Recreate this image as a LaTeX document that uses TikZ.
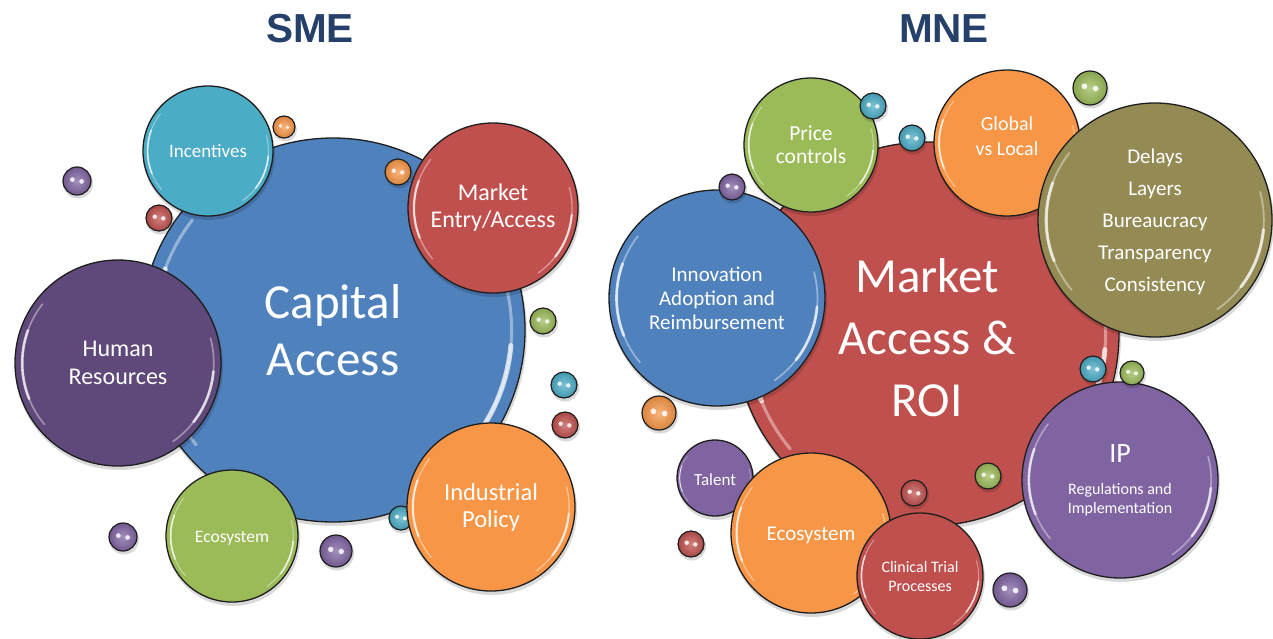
\documentclass[tikz,border=0pt]{standalone}
\usepackage{fontspec}
\setmainfont{Carlito}
\newfontfamily\headfont{Liberation Sans}

\definecolor{cblue}{HTML}{4F81BD}
\definecolor{cteal}{HTML}{4BACC6}
\definecolor{cred}{HTML}{C0504D}
\definecolor{cplum}{HTML}{5F497A}
\definecolor{cpurple}{HTML}{8064A2}
\definecolor{cgreen}{HTML}{9BBB59}
\definecolor{corange}{HTML}{F79646}
\definecolor{colive}{HTML}{948A54}
\definecolor{rimcol}{HTML}{1E1E1E}
\definecolor{headcol}{HTML}{25406A}

\tikzset{
  bubblenode/.style={circle, draw=rimcol, line width=1.3pt, inner sep=0pt},
  bubbletext/.style={text=white, align=center, inner sep=0pt},
  ballnode/.style={circle, draw=rimcol, line width=1.2pt, inner sep=0pt},
  glint/.style={white, line cap=round},
  dropshade/.style={fill=black, opacity=0.15},
  heading/.style={font=\headfont\bfseries\fontsize{40.5}{44}\selectfont,
    text=headcol, inner sep=0pt}
}

% [#1 text offset], #2 name, #3 x, #4 y, #5 radius, #6 colour, #7 font, #8 text
\newcommand\bubble[8][0]{%
  \fill[dropshade] (#3+1,#4+3) circle[radius=#5+1];
  \node[bubblenode, fill=#6, minimum size=2*#5] (#2) at (#3,#4) {};
  \draw[glint, opacity=.40, line width=0.016*#5]
    (#2.center) ++(140:0.93*#5) arc[start angle=140, end angle=218, radius=0.93*#5];
  \draw[glint, opacity=.70, line width=0.026*#5]
    (#2.center) ++(158:0.93*#5) arc[start angle=158, end angle=200, radius=0.93*#5];
  \draw[glint, opacity=.40, line width=0.016*#5]
    (#2.center) ++(-15:0.93*#5) arc[start angle=-15, end angle=55, radius=0.93*#5];
  \draw[glint, opacity=.70, line width=0.026*#5]
    (#2.center) ++(5:0.93*#5) arc[start angle=5, end angle=38, radius=0.93*#5];
  \node[bubbletext, font=#7] (#2-label) at ([yshift=-#1pt]#2.center) {#8};
}

% #1 name, #2 x, #3 y, #4 radius, #5 colour
\newcommand\ball[5]{%
  \fill[dropshade] (#2+1,#3+2.5) circle[radius=#4+1];
  \node[ballnode, inner color=#5!72!white, outer color=#5!88!black,
    minimum size=2*#4] (#1) at (#2,#3) {};
  \fill[white, opacity=.85] (#2-0.33*#4,#3-0.10*#4) circle[radius=0.17*#4];
  \fill[white, opacity=.85] (#2+0.33*#4,#3+0.03*#4) circle[radius=0.17*#4];
}

\begin{document}
\begin{tikzpicture}[x=1pt, y=-1pt]
  \useasboundingbox (0,0) rectangle (1273,638);
  \fill[white] (0,0) rectangle (1273,638);

  % headings
  \node[heading] (sme) at (310,29) {SME};
  \node[heading] (mne) at (944,29) {MNE};

  % ---------- SME cluster ----------
  \bubble{capital}{333}{330}{192}{cblue}{\fontsize{49}{57}\selectfont}{Capital\\Access}
  \bubble{incent}{208}{151}{65}{cteal}{\fontsize{19}{22}\selectfont}{Incentives}
  \bubble{human}{118}{363}{103}{cplum}{\fontsize{24}{28}\selectfont}{Human\\Resources}
  \bubble{entry}{493}{208}{85}{cred}{\fontsize{24}{27}\selectfont}{Market\\Entry/Access}
  \bubble[2]{ecoL}{232}{536}{66}{cgreen}{\fontsize{17.5}{20}\selectfont}{Ecosystem}
  \ball{b8}{401}{518}{12}{cteal}
  \bubble{industry}{491}{507}{84}{corange}{\fontsize{24.5}{27}\selectfont}{Industrial\\Policy}

  \ball{b1}{284}{127}{11}{corange}
  \ball{b2}{398}{172}{13}{corange}
  \ball{b3}{159}{218}{13}{cred}
  \ball{b4}{77}{181}{14}{cpurple}
  \ball{b5}{543}{321}{13}{cgreen}
  \ball{b6}{564}{385}{13}{cteal}
  \ball{b7}{565}{425}{13}{cred}
  \ball{b9}{123}{537}{14}{cpurple}
  \ball{b10}{336}{551}{16}{cpurple}

  % ---------- MNE cluster ----------
  \bubble[4]{roi}{927}{334}{192}{cred}{\fontsize{49}{62}\selectfont}{Market\\Access \&\\ROI}
  \bubble{innov}{717}{298}{108}{cblue}{\fontsize{21}{24}\selectfont}{Innovation\\Adoption and\\Reimbursement}
  \bubble{price}{811}{145}{67}{cgreen}{\fontsize{21.5}{23}\selectfont}{Price\\controls}
  \bubble[-7]{glocal}{1007}{143}{73}{corange}{\fontsize{20}{25}\selectfont}{Global\\vs Local}
  \bubble[2]{olive}{1155}{220}{117}{colive}{\fontsize{21}{32}\selectfont}{Delays\\Layers\\Bureaucracy\\Transparency\\Consistency}
  \bubble{ip}{1120}{480}{98}{cpurple}{\fontsize{16}{19}\selectfont}{{\fontsize{28}{30}\selectfont IP}\\[13pt]Regulations and\\Implementation}
  \bubble[2]{talent}{715}{478}{38}{cpurple}{\fontsize{17}{20}\selectfont}{Talent}
  \bubble[2]{ecoR}{811}{533}{80}{corange}{\fontsize{21}{24}\selectfont}{Ecosystem}
  \bubble{trial}{920}{576}{63}{cred}{\fontsize{16}{19}\selectfont}{Clinical Trial\\Processes}

  \ball{b11}{732}{187}{13}{cpurple}
  \ball{b12}{873}{106}{13}{cteal}
  \ball{b13}{912}{138}{13}{cteal}
  \ball{b14}{1090}{88}{17}{cgreen}
  \ball{b15}{1093}{369}{13}{cteal}
  \ball{b16}{1132}{373}{12}{cgreen}
  \ball{b17}{659}{413}{17}{corange}
  \ball{b18}{988}{476}{13}{cgreen}
  \ball{b19}{914}{493}{13}{cred}
  \ball{b20}{691}{544}{13}{cred}
  \ball{b21}{1010}{590}{17}{cpurple}
\end{tikzpicture}
\end{document}
